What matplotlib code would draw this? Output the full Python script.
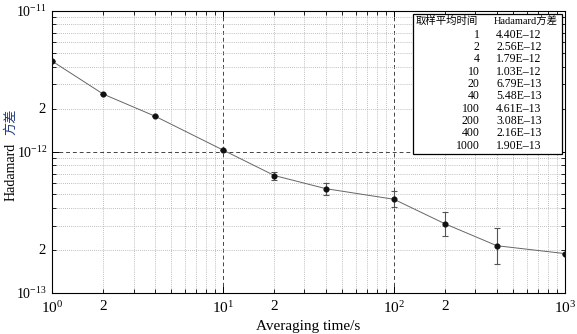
import matplotlib
matplotlib.use('Agg')
import matplotlib.pyplot as plt
from matplotlib.ticker import LogLocator, LogFormatterMathtext, NullFormatter, FixedLocator
from matplotlib.patches import Rectangle

plt.rcParams['font.family'] = ['Liberation Serif', 'Noto Sans CJK SC']
plt.rcParams['mathtext.fontset'] = 'stix'

tau = [1, 2, 4, 10, 20, 40, 100, 200, 400, 1000]
hvar = [4.40e-12, 2.56e-12, 1.79e-12, 1.03e-12, 6.79e-13,
        5.48e-13, 4.61e-13, 3.08e-13, 2.16e-13, 1.90e-13]
# error bar ends (0 = no bar)
err_low = [0, 0, 0, 0, 0.43e-13, 0.51e-13, 0.56e-13, 0.55e-13, 0.55e-13, 0]
err_high = [0, 0, 0, 0, 0.46e-13, 0.56e-13, 0.64e-13, 0.66e-13, 0.73e-13, 0]

x_major = [1, 10, 100, 1000]
y_major = [1e-13, 1e-12, 1e-11]
x_two = [2, 20, 200]
y_two = [2e-13, 2e-12]

fig = plt.figure(figsize=(5.77, 3.34), dpi=100)
ax = fig.add_axes([0.090, 0.123, 0.889, 0.845])

ax.plot(tau, hvar, color='#666666', lw=0.7, zorder=3)
ax.errorbar(tau, hvar, yerr=[err_low, err_high], fmt='none', ecolor='#555555',
            elinewidth=0.8, capsize=2.5, capthick=0.8, zorder=3)
ax.plot(tau, hvar, 'o', color='#111111', ms=3.4, zorder=4)

ax.set_xscale('log')
ax.set_yscale('log')
ax.set_xlim(1, 1000)
ax.set_ylim(1e-13, 1e-11)

ax.xaxis.set_major_locator(FixedLocator(x_major))
ax.yaxis.set_major_locator(FixedLocator(y_major))
for axis in (ax.xaxis, ax.yaxis):
    axis.set_minor_locator(LogLocator(base=10, subs=range(2, 10)))
    axis.set_major_formatter(LogFormatterMathtext())
    axis.set_minor_formatter(NullFormatter())

ax.tick_params(which='both', direction='in', top=True, right=True)
ax.tick_params(which='major', length=5, width=0.7)
ax.tick_params(which='minor', length=3, width=0.6)
ax.tick_params(axis='x', which='major', labelsize=11, pad=5)
ax.tick_params(axis='y', which='major', labelsize=10, pad=3.5)

ax.grid(which='minor', ls=(0, (1, 1.5)), color='#aaaaaa', lw=0.6)
ax.grid(which='major', ls=(0, (4, 3)), color='#444444', lw=0.7)
for s in ax.spines.values():
    s.set_linewidth(0.8)

# "2" labels at the minor positions
xt = ax.get_xaxis_transform()
for v in x_two:
    ax.text(v, -0.026, '2', transform=xt, ha='center', va='top', fontsize=11)
yt = ax.get_yaxis_transform()
for v in y_two:
    ax.text(-0.012, v, '2', transform=yt, ha='right', va='center', fontsize=10.5)

ax.set_xlabel('Averaging time/s', fontsize=11, labelpad=3)
ax.text(-0.080, 0.43, 'Hadamard', transform=ax.transAxes, rotation=90,
        ha='center', va='center', fontsize=10)
ax.text(-0.080, 0.605, '方差', transform=ax.transAxes, rotation=90,
        ha='center', va='center', fontsize=9.5, color='#1f3a80')

# inset table
x0, y0, x1, y1 = 0.704, 0.493, 0.994, 0.989
ax.add_patch(Rectangle((x0, y0), x1 - x0, y1 - y0, transform=ax.transAxes,
                       facecolor='white', edgecolor='black', lw=0.9, zorder=5))
ax.text(0.709, 0.963, '取样平均时间', transform=ax.transAxes,
        ha='left', va='center', fontsize=7.5, zorder=6)
ax.text(0.862, 0.963, 'Hadamard方差', transform=ax.transAxes,
        ha='left', va='center', fontsize=7.5, zorder=6)
for i, (t, v) in enumerate(zip(tau, hvar)):
    yy = 0.915 - i * 0.0437
    ax.text(0.834, yy, str(t), transform=ax.transAxes, ha='right',
            va='center', fontsize=8.5, zorder=6)
    ax.text(0.866, yy, f'{v:.2E}'.replace('-', '\u2013'), transform=ax.transAxes,
            ha='left', va='center', fontsize=8.5, zorder=6)

fig.savefig('out.png', dpi=100)
